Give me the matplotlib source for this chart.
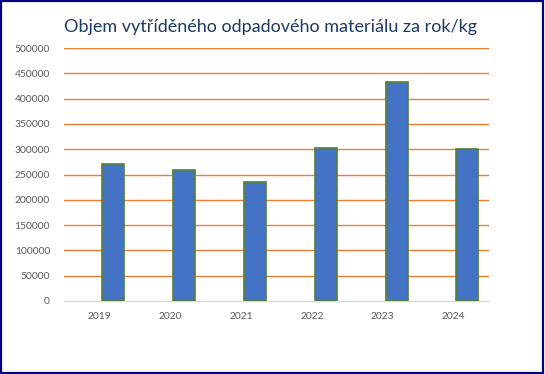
import matplotlib
matplotlib.use("Agg")
import matplotlib.pyplot as plt
from matplotlib.patches import Rectangle

years = ["2019", "2020", "2021", "2022", "2023", "2024"]
values = [270000, 258000, 235000, 302000, 432000, 300000]
yticks = [0, 50000, 100000, 150000, 200000, 250000, 300000, 350000, 400000, 450000, 500000]
title = "Objem vytříděného odpadového materiálu za rok/kg"

plt.rcParams['font.family'] = ['Lato', 'DejaVu Sans']

fig = plt.figure(figsize=(5.45, 3.74), dpi=100)
ax = fig.add_axes([64/545, 73/374, (489-64)/545, (301-48)/374])

x = list(range(len(years)))
# bars sit right of the category centre (as in a clustered chart with an empty second series)
bar_x = [i + 0.195 for i in x]
ax.bar(bar_x, values, width=0.31, color="#4472C4", edgecolor="#548235", linewidth=1.2, zorder=3)

ax.set_ylim(0, 500000)
ax.set_xlim(-0.5, len(years) - 0.5)
ax.set_yticks(yticks)
ax.set_yticklabels([str(v) for v in yticks])
ax.set_xticks(x)
ax.set_xticklabels(years)
ax.tick_params(axis='both', length=0, labelsize=7.4, labelcolor="#595959")
ax.tick_params(axis='y', pad=10)
ax.tick_params(axis='x', pad=8)

for v in yticks[1:]:
    ax.axhline(v, color="#ED7D31", linewidth=1.0, zorder=1)

for s in ["top", "right", "left"]:
    ax.spines[s].set_visible(False)
ax.spines["bottom"].set_color("#D9D9D9")
ax.spines["bottom"].set_linewidth(1.0)

fig.text(270/545, 1 - 27/374, title, ha="center", va="center", fontsize=13, color="#1F3864")

fig.patches.append(Rectangle((0.001, 0.002), 0.996, 0.995, transform=fig.transFigure,
                             fill=False, edgecolor="#000080", linewidth=1.6))

fig.savefig("out.png", dpi=100)
